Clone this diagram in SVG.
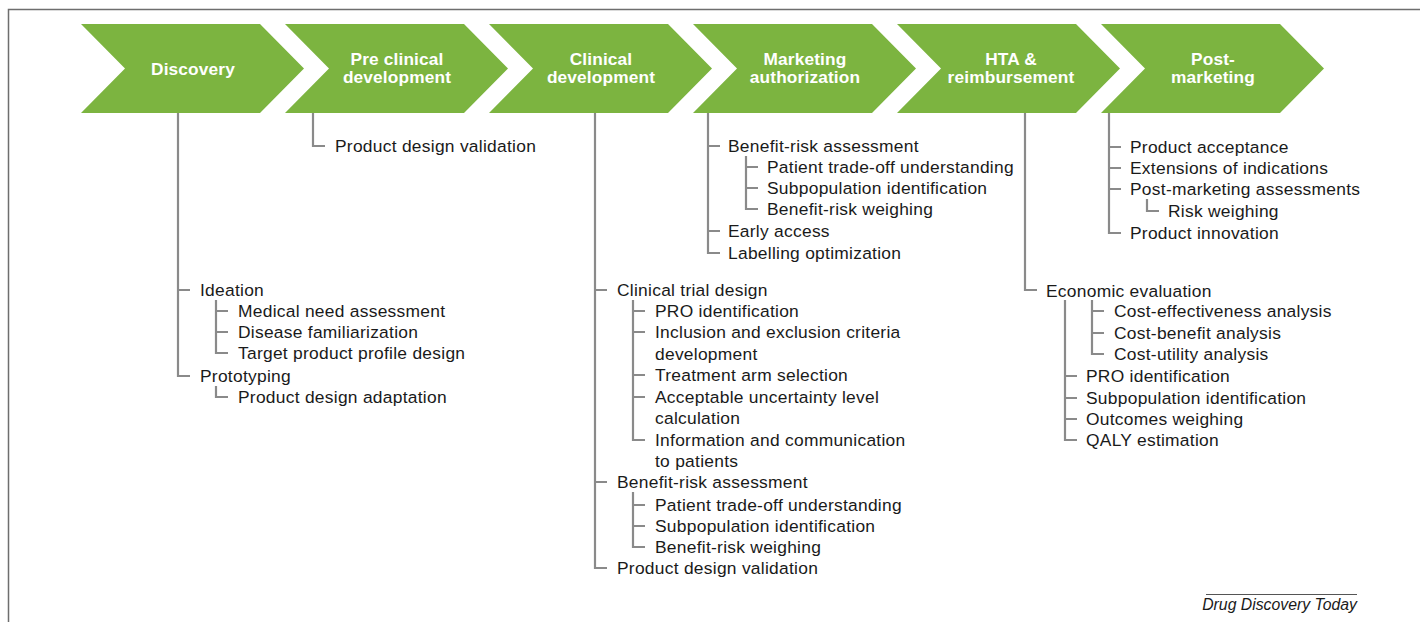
<svg xmlns="http://www.w3.org/2000/svg" width="1420" height="622" viewBox="0 0 1420 622">
<style>
.frame{fill:none;stroke:#6e6e6e;stroke-width:1.5}
.chev{fill:#7cb440}
.title{font-family:"Liberation Sans",Arial,sans-serif;font-weight:bold;font-size:17.3px;letter-spacing:0.15px;fill:#ffffff;text-anchor:middle}
.lbl{font-family:"Liberation Sans",Arial,sans-serif;font-size:17.4px;letter-spacing:0.27px;fill:#1a1a1a}
.tree{fill:none;stroke:#8a8a8a;stroke-width:2.2}
.src{font-family:"Liberation Sans",Arial,sans-serif;font-style:italic;font-size:15.8px;fill:#1a1a1a;text-anchor:end}
</style>
<rect width="1420" height="622" fill="#ffffff"/>
<path class="frame" d="M1420 9.5 H8.5 V622"/>

<g id="discovery">
<polygon class="chev" points="81,24 260,24 304,68.5 260,113 81,113 125,68.5"/>
<text class="title" x="193" y="74.5">Discovery</text>
<text class="lbl" x="200" y="296">Ideation</text>
<text class="lbl" x="238" y="317">Medical need assessment</text>
<text class="lbl" x="238" y="338">Disease familiarization</text>
<text class="lbl" x="238" y="359">Target product profile design</text>
<text class="lbl" x="200" y="382">Prototyping</text>
<text class="lbl" x="238" y="403">Product design adaptation</text>
</g>

<g id="preclinical">
<polygon class="chev" points="285,24 464,24 508,68.5 464,113 285,113 329,68.5"/>
<text class="title" x="397" y="65">Pre clinical</text>
<text class="title" x="397" y="82.5">development</text>
<text class="lbl" x="335" y="152">Product design validation</text>
</g>

<g id="clinical">
<polygon class="chev" points="489,24 668,24 712,68.5 668,113 489,113 533,68.5"/>
<text class="title" x="601" y="65">Clinical</text>
<text class="title" x="601" y="82.5">development</text>
<text class="lbl" x="617" y="296">Clinical trial design</text>
<text class="lbl" x="655" y="317">PRO identification</text>
<text class="lbl" x="655" y="338">Inclusion and exclusion criteria</text>
<text class="lbl" x="655" y="360">development</text>
<text class="lbl" x="655" y="381">Treatment arm selection</text>
<text class="lbl" x="655" y="403">Acceptable uncertainty level</text>
<text class="lbl" x="655" y="424">calculation</text>
<text class="lbl" x="655" y="446">Information and communication</text>
<text class="lbl" x="655" y="467">to patients</text>
<text class="lbl" x="617" y="488">Benefit-risk assessment</text>
<text class="lbl" x="655" y="511">Patient trade-off understanding</text>
<text class="lbl" x="655" y="532">Subpopulation identification</text>
<text class="lbl" x="655" y="553">Benefit-risk weighing</text>
<text class="lbl" x="617" y="574">Product design validation</text>
</g>

<g id="marketing">
<polygon class="chev" points="693,24 872,24 916,68.5 872,113 693,113 737,68.5"/>
<text class="title" x="805" y="65">Marketing</text>
<text class="title" x="805" y="82.5">authorization</text>
<text class="lbl" x="728" y="152">Benefit-risk assessment</text>
<text class="lbl" x="767" y="173">Patient trade-off understanding</text>
<text class="lbl" x="767" y="194">Subpopulation identification</text>
<text class="lbl" x="767" y="215">Benefit-risk weighing</text>
<text class="lbl" x="728" y="237">Early access</text>
<text class="lbl" x="728" y="259">Labelling optimization</text>
</g>

<g id="hta">
<polygon class="chev" points="897,24 1076,24 1120,68.5 1076,113 897,113 941,68.5"/>
<text class="title" x="1011" y="65">HTA &amp;</text>
<text class="title" x="1011" y="83">reimbursement</text>
<text class="lbl" x="1046" y="297">Economic evaluation</text>
<text class="lbl" x="1114" y="317">Cost-effectiveness analysis</text>
<text class="lbl" x="1114" y="339">Cost-benefit analysis</text>
<text class="lbl" x="1114" y="360">Cost-utility analysis</text>
<text class="lbl" x="1086" y="382">PRO identification</text>
<text class="lbl" x="1086" y="404">Subpopulation identification</text>
<text class="lbl" x="1086" y="425">Outcomes weighing</text>
<text class="lbl" x="1086" y="446">QALY estimation</text>
</g>

<g id="postmarketing">
<polygon class="chev" points="1101,24 1280,24 1324,68.5 1280,113 1101,113 1145,68.5"/>
<text class="title" x="1213" y="65">Post-</text>
<text class="title" x="1213" y="82.5">marketing</text>
<text class="lbl" x="1130" y="153">Product acceptance</text>
<text class="lbl" x="1130" y="174">Extensions of indications</text>
<text class="lbl" x="1130" y="195">Post-marketing assessments</text>
<text class="lbl" x="1168" y="217">Risk weighing</text>
<text class="lbl" x="1130" y="239">Product innovation</text>
</g>

<g id="connectors" class="tree">
<path d="M178 113 V376 H190 M178 290 H190"/>
<path d="M216 300 V353 H228 M216 311 H228 M216 332 H228"/>
<path d="M216 386 V397 H228"/>
<path d="M313 113 V146 H325"/>
<path d="M595 113 V568 H607 M595 290 H607 M595 482 H607"/>
<path d="M633 300 V440 H645 M633 311 H645 M633 332 H645 M633 375 H645 M633 397 H645"/>
<path d="M633 492 V547 H645 M633 505 H645 M633 526 H645"/>
<path d="M708 113 V253 H720 M708 146 H720 M708 231 H720"/>
<path d="M746 156 V209 H758 M746 167 H758 M746 188 H758"/>
<path d="M1025 113 V290 H1037"/>
<path d="M1065 300 V440 H1077 M1065 376 H1077 M1065 398 H1077 M1065 419 H1077"/>
<path d="M1092 300 V354 H1104 M1092 311 H1104 M1092 333 H1104"/>
<path d="M1109 113 V233 H1121 M1109 147 H1121 M1109 168 H1121 M1109 189 H1121"/>
<path d="M1147 199 V211 H1159"/>
</g>

<g id="source">
<line x1="1206" y1="594.5" x2="1357" y2="594.5" stroke="#555555" stroke-width="1"/>
<text class="src" x="1357" y="610">Drug Discovery Today</text>
</g>
</svg>
